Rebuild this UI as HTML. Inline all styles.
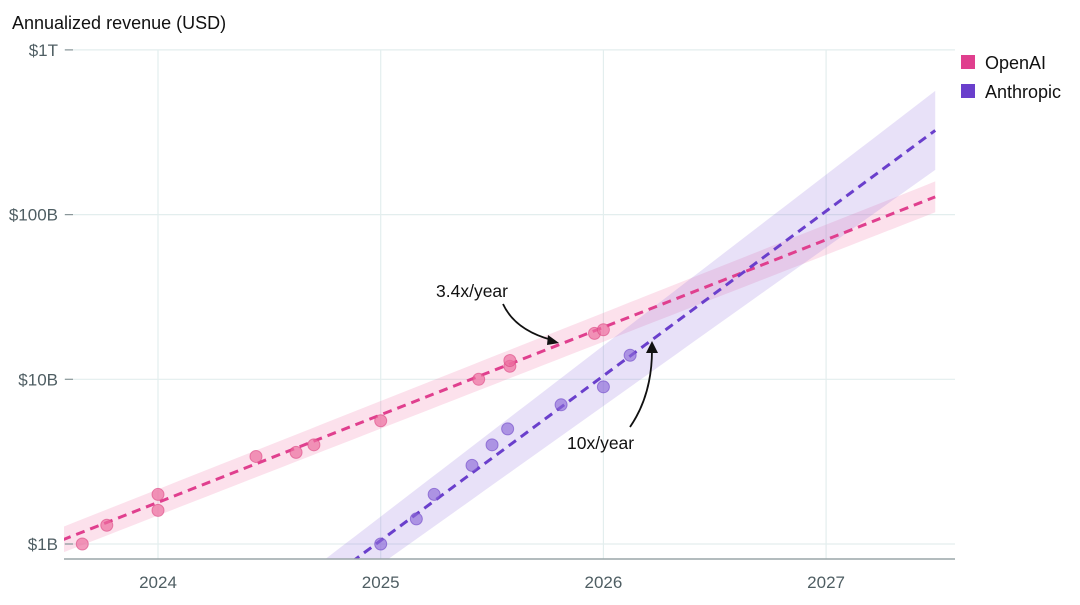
<!DOCTYPE html>
<html><head><meta charset="utf-8"><style>
html,body{margin:0;padding:0;background:#fff;}
svg{display:block;font-family:"Liberation Sans",sans-serif;}
</style></head><body>
<svg id="chart" width="1080" height="605" viewBox="0 0 1080 605">
<text x="12" y="29" font-size="18" fill="#111">Annualized revenue (USD)</text>
<g id="grid"></g>
<g id="bands"></g>
<g id="lines"></g>
<g id="points"></g>
<g id="axes"></g>
<g>
<rect x="961" y="55" width="14" height="14" fill="#e03f8e"/>
<text x="985" y="69" font-size="18" fill="#111">OpenAI</text>
<rect x="961" y="84" width="14" height="14" fill="#6a3fcc"/>
<text x="985" y="98" font-size="18" fill="#111">Anthropic</text>
</g>
<g>
<text x="436" y="297" font-size="17.5" fill="#111">3.4x/year</text>
<path d="M503,304 Q515,330 552,340" fill="none" stroke="#111" stroke-width="1.8"/>
<path d="M559,343 L548,335 L547,345 Z" fill="#111"/>
</g>
<g>
<text x="567" y="449" font-size="17.5" fill="#111">10x/year</text>
<path d="M630,427 Q652,395 652,350" fill="none" stroke="#111" stroke-width="1.8"/>
<path d="M652,341 L646,353 L658,353 Z" fill="#111"/>
</g>
</svg>
<script>
const openaiYears=[2023.66,2023.77,2024.0,2024.0,2024.44,2024.62,2024.70,2025.0,2025.44,2025.58,2025.58,2025.96,2026.0];
const openaiValues=[1.0,1.3,1.6,2.0,3.4,3.6,4.0,5.6,10,12,13,19,20];
const anthropicYears=[2025.0,2025.16,2025.24,2025.41,2025.5,2025.57,2025.81,2026.0,2026.12];
const anthropicValues=[1.0,1.42,2.0,3.0,4.0,5.0,7.0,9.0,14];
const yTickValues=[1,10,100,1000];
const yTickLabels=["$1B","$10B","$100B","$1T"];
const xTickYears=[2024,2025,2026,2027];
const openaiTrend=[1.79,3.4];   // value at 2024, growth per year
const anthropicTrend=[1.05,10];  // value at 2025, growth per year

const NS="http://www.w3.org/2000/svg";
const L=64,R=955,T=45,B=559;
function xs(t){return 158+(t-2024)*222.7;}
function ys(v){return 544-Math.log10(v)*164.7;}
function mk(tag,attrs,parent){const e=document.createElementNS(NS,tag);for(const k in attrs)e.setAttribute(k,attrs[k]);parent.appendChild(e);return e;}
const grid=document.getElementById('grid'),axes=document.getElementById('axes');
yTickValues.forEach((v,i)=>{
  const y=ys(v);
  const g=mk('line',{x1:L,x2:R,y1:y,y2:y,stroke:'#e3eeee','stroke-width':1.2},grid);
  
  
  mk('line',{x1:65,x2:73,y1:y,y2:y,stroke:'#8a9699','stroke-width':1.2},axes);
  const t=mk('text',{x:58,y:y+6,'font-size':17,fill:'#4f5e63','text-anchor':'end'},axes);
  t.textContent=yTickLabels[i];
  
  
});
xTickYears.forEach(yr=>{
  const x=xs(yr);
  const g=mk('line',{x1:x,x2:x,y1:T+5,y2:B,stroke:'#e3eeee','stroke-width':1.2},grid);
  
  
  const t=mk('text',{x:x,y:588,'font-size':17,fill:'#4f5e63','text-anchor':'middle'},axes);
  t.textContent=String(yr);
  
  
});
const ax=mk('line',{x1:L,x2:R,y1:B,y2:B,stroke:'#9aa5a8','stroke-width':1.5},axes);



const defs=mk('defs',{},document.getElementById('chart'));
const cp=mk('clipPath',{id:'plotclip'},defs);
mk('rect',{x:L,y:T,width:R-L,height:B-T},cp);

function trend(base,rate,t0,t){return base*Math.pow(rate,t-t0);}
function drawSeries(name,base,rate,t0,tStart,tEnd,hw0,hwSlope,bandColor,lineColor,years,vals,ptFill,ptStroke){
  const bands=document.getElementById('bands'),lines=document.getElementById('lines'),pts=document.getElementById('points');
  let up=[],dn=[],ln=[];
  for(let i=0;i<=60;i++){
    const t=tStart+(tEnd-tStart)*i/60;
    const v=trend(base,rate,t0,t);
    const hw=hw0+hwSlope*(t-tStart);
    up.push(xs(t)+','+ys(v*Math.pow(10,hw)));
    dn.unshift(xs(t)+','+ys(v/Math.pow(10,hw)));
    ln.push(xs(t)+','+ys(v));
  }
  const b=mk('polygon',{points:up.concat(dn).join(' '),fill:bandColor,'clip-path':'url(#plotclip)'},bands);
  
  
  const l=mk('polyline',{points:ln.join(' '),fill:'none',stroke:lineColor,'stroke-width':3,'stroke-dasharray':'9 6','clip-path':'url(#plotclip)'},lines);
  
  
  years.forEach((yr,i)=>{
    const c=mk('circle',{cx:xs(yr),cy:ys(vals[i]),r:6,fill:ptFill,stroke:ptStroke,'stroke-width':1},pts);
    
    
  });
}
drawSeries('openai',openaiTrend[0],openaiTrend[1],2024,2023.57,2027.49,0.078,0.004,'rgba(240,120,170,0.22)','#e03f8e',openaiYears,openaiValues,'rgba(236,110,160,0.7)','rgba(220,70,130,0.6)');
drawSeries('anthropic',anthropicTrend[0],anthropicTrend[1],2025,2024.6,2027.49,0.13,0.038,'rgba(150,120,225,0.22)','#6a3fcc',anthropicYears,anthropicValues,'rgba(140,105,215,0.65)','rgba(110,70,200,0.6)');
</script>
</body></html>
